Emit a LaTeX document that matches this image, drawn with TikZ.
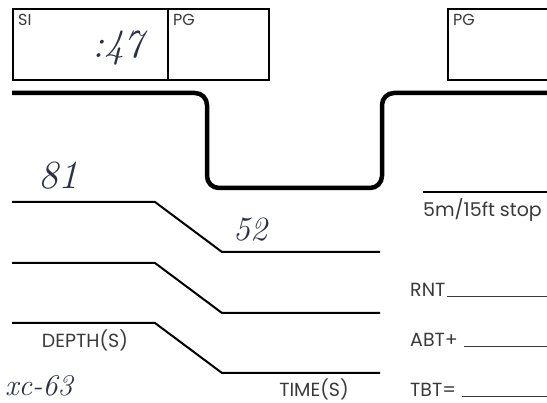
\documentclass[tikz,border=0pt]{standalone}
\usepackage{fontspec}
\setsansfont{Poppins}
\usepackage{tikz}
\usetikzlibrary{positioning}
\definecolor{logPrint}{HTML}{3A3A3A}
\definecolor{logInk}{HTML}{2B2F48}

\begin{document}
\begin{tikzpicture}[x=1pt, y=-1pt,
    formtext/.style={font=\sffamily\fontsize{19}{21}\selectfont, text=logPrint, inner sep=0pt},
    boxtext/.style={font=\sffamily\fontsize{16}{18}\selectfont, text=logPrint, inner sep=0pt, anchor=north west},
    handtext/.style={font=\rmfamily\itshape\fontsize{40}{42}\selectfont, text=logInk, inner sep=0pt},
    formbox/.style={draw=black, line width=1.8pt},
    profile/.style={draw=black, line width=4.5pt, rounded corners=12pt},
    depthline/.style={draw=black, line width=2pt},
    fillline/.style={draw=logPrint, line width=1pt}]
    \useasboundingbox (0,0) rectangle (547,403);
    \clip (0,0) rectangle (547,403);
    % boxes at the top
    \node[formbox, minimum width=155pt, minimum height=71pt, anchor=north west] (sibox) at (12,8) {};
    \node[formbox, minimum width=101pt, minimum height=71pt, anchor=north west] (pgbox) at (167,8) {};
    \node[formbox, minimum width=110pt, minimum height=71pt, anchor=north west] (nextpg) at (447,8) {};
    \node[boxtext] (silabel) at (18,14) {SI};
    \node[boxtext] (pglabel) at (173,14) {PG};
    \node[boxtext] (nextlabel) at (453,14) {PG};
    \node[handtext] (sitime) at (118,48) {:47};
    % dive profile
    \coordinate (surfA) at (12,93);
    \coordinate (surfB) at (550,93);
    \draw[profile] (surfA) -- (207,93) -- (207,188) -- (382,188) -- (382,93) -- (surfB);
    \coordinate (stopA) at (423,192);
    \coordinate (stopB) at (550,192);
    \draw[depthline, line width=1.6pt] (stopA) -- (stopB);
    \node[formtext, below=6pt of stopA, anchor=north west] (stop) {5m/15ft stop};
    % depth and time lines
    \foreach \i/\y in {1/202, 2/263, 3/323} {
        \coordinate (depth\i) at (12,\y);
        \coordinate (time\i) at (380,\y+50);
        \draw[depthline] (depth\i) -- (155,\y) -- (222,\y+50) -- (time\i);
    }
    \node[formtext] (depthlabel) at (85,340) {DEPTH(S)};
    \node[formtext] (timelabel) at (314,389) {TIME(S)};
    \node[handtext] (depthone) at (58,176) {81};
    \node[handtext, font=\rmfamily\itshape\fontsize{34}{36}\selectfont] (timeone) at (250,230) {52};
    \node[handtext, anchor=west, font=\rmfamily\itshape\fontsize{30}{32}\selectfont] (note) at (5,386) {xc-63};
    % totals
    \node[formtext, anchor=west] (rnt) at (410,290) {RNT};
    \node[formtext, anchor=west] (abt) at (410,340) {ABT+};
    \node[formtext, anchor=west] (tbt) at (410,390) {TBT=};
    \coordinate (rightEdge) at (550,0);
    \draw[fillline] ([xshift=1pt]rnt.base east) -- (rnt.base east -| rightEdge);
    \draw[fillline] ([xshift=6pt]abt.base east) -- (abt.base east -| rightEdge);
    \draw[fillline] ([xshift=6pt]tbt.base east) -- (tbt.base east -| rightEdge);
\end{tikzpicture}
\end{document}
